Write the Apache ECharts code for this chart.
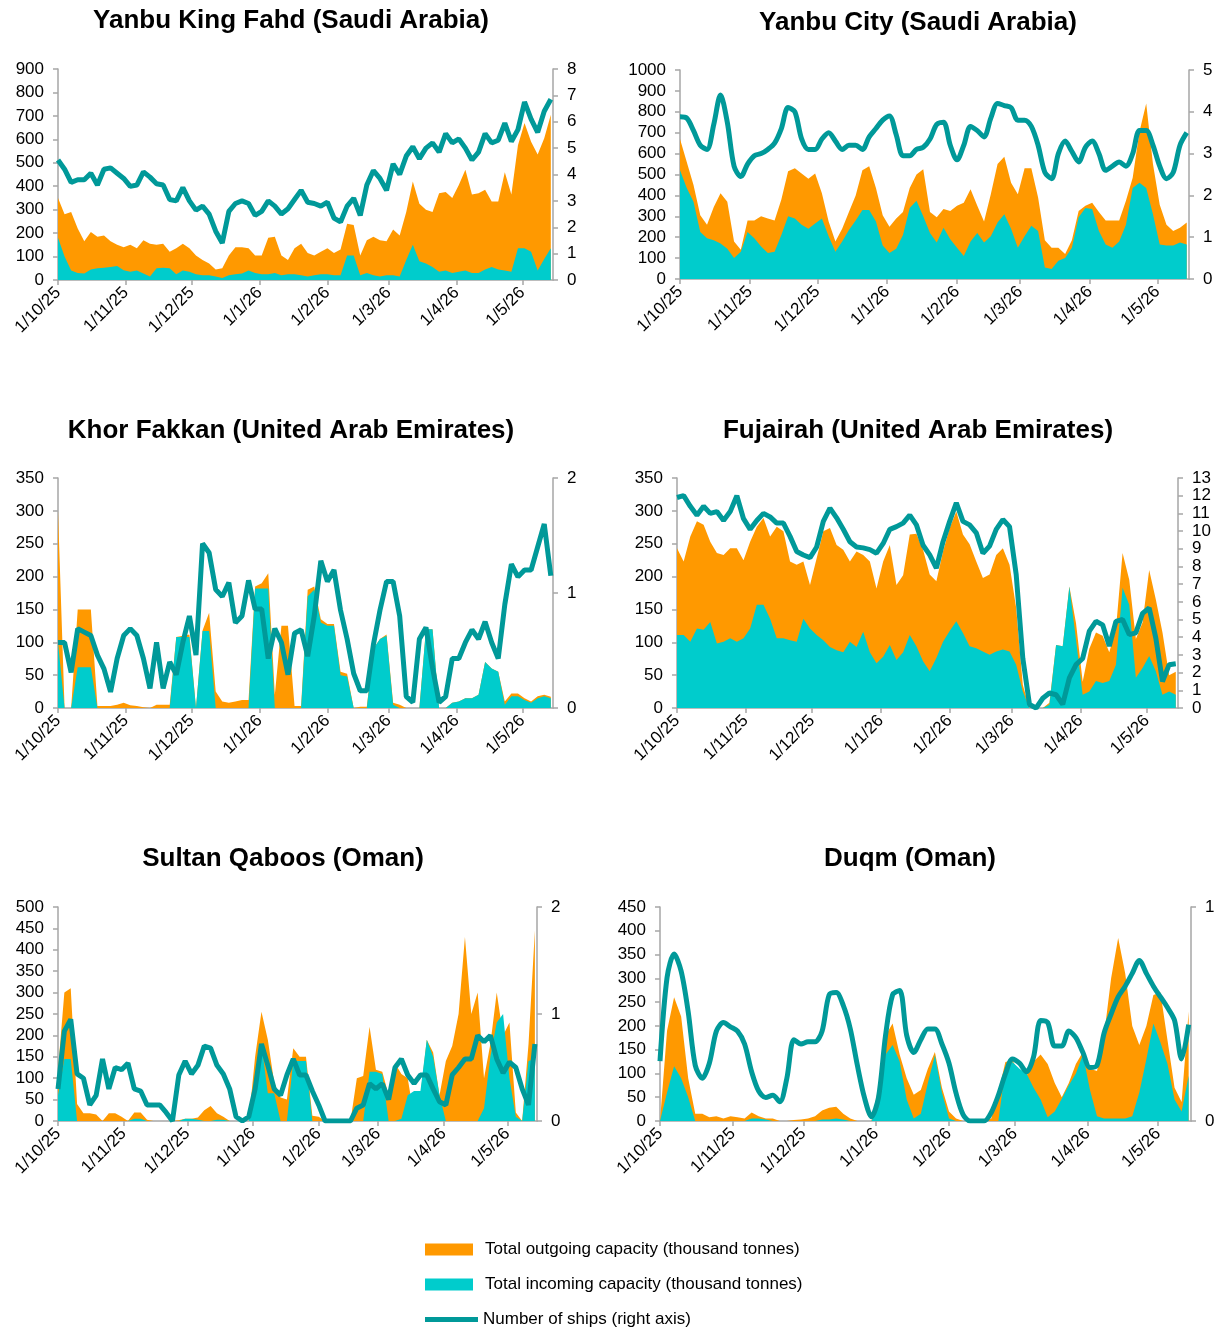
<!DOCTYPE html>
<html>
<head>
<meta charset="utf-8">
<script src="https://cdn.jsdelivr.net/npm/echarts@6/dist/echarts.min.js"></script>
<style>html,body{margin:0;padding:0;background:#fff}#c{width:1219px;height:1329px}</style>
</head>
<body>
<div id="c"></div>
<script>
// ---- sample days (days since 1 Oct 2025) ----
const SAMPLE_DAYS = [0,3,6,9,12,15,18,21,24,27,30,33,36,39,42,45,48,51,54,57,60,63,66,69,72,75,78,81,84,87,90,93,96,99,102,105,108,111,114,117,120,123,126,129,132,135,138,141,144,147,150,153,156,159,162,165,168,171,174,177,180,183,186,189,192,195,198,201,204,207,210,213,216,219,222,225];
const TICK_DAYS = [0,31,61,92,123,151,182,212];
const TICK_LABELS = ['1/10/25','1/11/25','1/12/25','1/1/26','1/2/26','1/3/26','1/4/26','1/5/26'];
const TITLES = ['Yanbu King Fahd (Saudi Arabia)','Yanbu City (Saudi Arabia)','Khor Fakkan (United Arab Emirates)','Fujairah (United Arab Emirates)','Sultan Qaboos (Oman)','Duqm (Oman)'];
const NAME_OUT = 'Total outgoing capacity (thousand tonnes)';
const NAME_IN = 'Total incoming capacity (thousand tonnes)';
const NAME_SHIPS = 'Number of ships (right axis)';

// ---- Yanbu King Fahd ----
const kfOut = [350,280,290,220,165,205,185,190,165,150, 140,150,135,170,155,150,155,120,135,155, 135,105,85,70,45,50,105,140,140,135, 105,105,180,185,105,85,135,155,115,105, 120,135,115,130,240,235,105,170,185,170, 165,215,190,290,420,325,300,290,370,375, 350,405,470,365,370,385,335,335,460,365, 575,670,590,535,605,705];
const kfIn = [180,100,40,30,28,45,50,52,55,60, 42,35,40,28,15,50,52,50,25,40, 35,25,20,20,15,8,20,25,28,40, 30,25,25,30,20,25,25,20,15,20, 25,25,20,20,105,105,20,30,20,15, 20,20,15,85,150,80,70,55,35,40, 30,35,40,30,30,45,55,45,40,35, 135,135,120,40,90,135];
const kfShips = [4.55,4.2,3.7,3.8,3.8,4.05,3.6,4.2,4.25,4.05, 3.85,3.55,3.6,4.1,3.9,3.65,3.6,3.05,3.0,3.5, 3.0,2.65,2.8,2.5,1.85,1.4,2.6,2.9,3.0,2.9, 2.45,2.6,3.0,2.8,2.5,2.7,3.05,3.4,2.95,2.9, 2.8,2.95,2.35,2.2,2.8,3.1,2.45,3.6,4.15,3.85, 3.4,4.4,4.0,4.7,5.05,4.6,5.0,5.2,4.85,5.55, 5.2,5.35,5.0,4.55,4.85,5.55,5.2,5.3,5.95,5.25, 5.7,6.75,6.1,5.6,6.4,6.85];

// ---- Yanbu City ----
const ycOut = [670,560,450,305,260,345,410,370,180,140, 280,280,300,290,280,380,515,530,505,480, 505,410,275,180,240,320,400,520,540,435, 305,250,290,320,435,500,525,320,295,335, 325,350,365,430,350,275,405,550,585,460, 405,530,530,390,185,150,150,120,185,325, 350,365,320,280,280,280,375,485,705,840, 550,355,260,230,245,270];
const ycIn = [520,435,370,225,195,185,170,145,100,130, 225,195,155,125,130,210,300,290,260,240, 265,290,205,130,180,235,280,330,330,275, 160,125,145,210,340,375,300,220,175,245, 190,150,110,180,220,175,205,270,310,240, 150,205,255,230,55,48,87,100,150,295, 340,335,230,165,150,180,260,435,460,435, 310,165,160,160,175,165];
const ycShips = [3.88,3.85,3.55,3.2,3.1,3.7,4.4,3.75,2.7,2.45, 2.75,2.95,3.0,3.1,3.25,3.6,4.1,4.0,3.35,3.1, 3.1,3.35,3.5,3.3,3.1,3.2,3.2,3.1,3.4,3.6, 3.8,3.9,3.45,2.95,2.95,3.1,3.15,3.35,3.7,3.75, 3.2,2.85,3.2,3.65,3.55,3.4,3.85,4.2,4.15,4.1, 3.8,3.8,3.65,3.2,2.55,2.4,3.0,3.3,3.05,2.8, 3.15,3.3,3.0,2.6,2.7,2.8,2.7,3.0,3.55,3.55, 3.2,2.7,2.4,2.55,3.2,3.5];

// ---- Khor Fakkan ----
const kkOut = [300,0,0,150,150,150,3,3,3,5, 8,4,3,1,0,5,5,5,108,110, 112,0,118,145,25,10,8,10,12,12, 185,190,205,20,125,125,3,3,180,185, 135,128,128,55,52,0,2,2,90,105, 112,8,5,0,0,0,120,120,0,0, 8,10,15,15,20,70,60,55,10,22, 22,15,10,18,20,17];
const kkIn = [100,0,0,62,62,62,0,0,0,0, 0,0,0,0,0,0,0,0,108,108, 108,0,117,117,0,0,0,0,0,0, 182,182,182,0,0,0,0,0,170,180, 130,125,125,50,48,0,0,0,90,105, 110,5,0,0,0,0,120,120,0,0, 8,10,15,15,20,70,60,55,5,18, 18,12,8,15,18,15];
const kkShips = [0.57,0.57,0.31,0.69,0.66,0.63,0.46,0.34,0.14,0.43, 0.63,0.69,0.63,0.43,0.17,0.57,0.17,0.4,0.29,0.57, 0.8,0.46,1.43,1.35,1.03,0.97,1.09,0.74,0.8,1.11, 0.86,0.86,0.43,0.69,0.57,0.29,0.65,0.68,0.45,0.8, 1.28,1.1,1.2,0.85,0.6,0.3,0.15,0.15,0.55,0.85, 1.1,1.1,0.8,0.1,0.05,0.6,0.7,0.35,0.05,0.1, 0.43,0.43,0.57,0.68,0.6,0.75,0.57,0.43,0.9,1.25, 1.14,1.2,1.2,1.4,1.6,1.15];

// ---- Fujairah ----
const fjOut = [243,223,261,284,279,253,236,233,243,243, 225,253,276,289,261,276,269,223,218,223, 187,228,269,274,248,241,223,238,233,223, 182,223,248,187,202,264,265,241,203,193, 238,274,299,264,249,223,198,203,233,243, 218,152,35,0,0,0,8,96,94,185, 129,40,90,115,110,85,120,236,195,105, 130,210,165,115,50,55];
const fjIn = [111,111,101,121,119,131,98,101,106,101, 106,121,157,157,136,106,106,103,101,136, 121,111,103,93,88,85,101,93,116,85, 68,78,96,73,85,111,94,71,56,76, 101,117,132,114,94,91,86,81,86,89, 86,66,25,0,0,0,5,96,94,185, 104,20,25,41,38,41,66,183,157,46, 61,79,56,20,25,20];
const fjShips = [11.9,12.0,11.4,10.9,11.4,11.0,11.1,10.6,11.1,12.0, 10.7,10.1,10.6,11.0,10.8,10.45,10.45,9.7,8.85,8.65, 8.5,9.1,10.55,11.3,10.75,10.1,9.4,9.1,9.05,8.95, 8.75,9.3,10.1,10.25,10.45,10.9,10.35,9.2,8.65,7.9, 9.4,10.55,11.6,10.55,10.35,9.9,8.75,9.15,10.1,10.65, 10.25,7.55,2.8,0.2,0,0.55,0.85,0.75,0.2,1.7, 2.45,2.8,4.35,4.9,4.7,3.5,4.9,5.0,4.15,4.25, 5.35,5.65,3.95,1.5,2.45,2.5];

// ---- Sultan Qaboos ----
const sqOut = [120,300,310,40,18,18,15,0,18,18, 10,0,20,20,3,0,0,0,0,2, 5,5,8,25,35,18,10,0,0,0, 0,150,255,190,90,55,50,170,150,150, 12,10,0,0,0,0,0,100,105,220, 120,115,60,135,110,100,10,60,190,160, 60,140,175,250,430,250,300,100,180,300, 200,230,20,0,180,445];
const sqIn = [60,145,145,0,0,0,0,0,0,0, 0,0,5,5,0,0,0,0,0,0, 5,5,3,0,0,3,3,0,0,0, 0,100,180,65,65,0,0,140,140,140, 0,0,0,0,0,0,0,0,0,115, 115,110,0,0,5,60,70,70,190,150, 60,0,0,0,0,0,0,30,150,230, 250,100,10,0,140,145];
const sqShips = [0.3,0.84,0.95,0.44,0.4,0.15,0.24,0.58,0.3,0.5, 0.48,0.54,0.3,0.28,0.15,0.15,0.15,0.08,0,0.43, 0.56,0.44,0.52,0.7,0.68,0.52,0.44,0.3,0.04,0, 0.04,0.3,0.72,0.52,0.3,0.24,0.43,0.58,0.43,0.43, 0.28,0.15,0,0,0,0,0,0.12,0.15,0.35, 0.3,0.35,0.2,0.5,0.58,0.43,0.35,0.43,0.43,0.3, 0.18,0.15,0.43,0.5,0.58,0.58,0.8,0.74,0.8,0.58, 0.45,0.55,0.5,0.3,0.15,0.72];

// ---- Duqm ----
const dqOut = [0,190,260,220,90,15,15,8,10,5, 10,8,5,18,10,5,5,0,0,2, 3,5,10,22,28,30,15,5,0,0, 0,70,180,205,140,90,55,65,110,145, 70,20,5,0,0,0,0,5,60,124, 128,100,95,125,140,120,80,50,80,120, 145,110,105,180,300,385,310,200,160,200, 265,270,170,70,40,230];
const dqIn = [0,60,115,90,50,0,0,0,0,0, 0,0,0,5,5,3,0,0,0,0, 0,0,0,3,3,5,3,0,0,0, 0,30,140,160,125,45,5,15,80,138, 60,5,0,0,0,0,0,0,0,110, 124,110,100,70,45,8,20,47,75,100, 140,65,10,5,5,5,5,10,60,130, 205,165,120,45,20,95];
const dqShips = [0.28,0.67,0.78,0.7,0.51,0.26,0.2,0.27,0.42,0.46, 0.44,0.42,0.36,0.23,0.14,0.11,0.12,0.09,0.2,0.38, 0.36,0.37,0.37,0.42,0.59,0.6,0.54,0.43,0.26,0.11, 0.02,0.11,0.4,0.59,0.61,0.4,0.32,0.38,0.43,0.43, 0.36,0.27,0.13,0.03,0,0,0,0.04,0.12,0.22, 0.29,0.27,0.23,0.3,0.47,0.46,0.35,0.35,0.42,0.39, 0.32,0.25,0.26,0.41,0.5,0.58,0.63,0.69,0.75,0.69, 0.63,0.58,0.53,0.47,0.29,0.45];

// ---- styling / layout ----
const FONT = "'Liberation Sans', Arial, sans-serif";
const ORANGE = '#FF9900', CYAN = '#00CCCC', TEAL = '#009999', AXIS = '#A6A6A6';

const PANELS = [
  {title: TITLES[0], out: kfOut, inc: kfIn, ships: kfShips, lmax: 900, lint: 100, rmax: 8, rint: 1, g: [58, 69, 495, 211], tx: 291, ty: 8, smooth: false},
  {title: TITLES[1], out: ycOut, inc: ycIn, ships: ycShips, lmax: 1000, lint: 100, rmax: 5, rint: 1, g: [680, 70, 509, 209], tx: 918, ty: 10, smooth: 0.3},
  {title: TITLES[2], out: kkOut, inc: kkIn, ships: kkShips, lmax: 350, lint: 50, rmax: 2, rint: 1, g: [58, 478, 495, 230], tx: 291, ty: 418, smooth: false},
  {title: TITLES[3], out: fjOut, inc: fjIn, ships: fjShips, lmax: 350, lint: 50, rmax: 13, rint: 1, g: [677, 478, 501, 230], tx: 918, ty: 418, smooth: false},
  {title: TITLES[4], out: sqOut, inc: sqIn, ships: sqShips, lmax: 500, lint: 50, rmax: 2, rint: 1, g: [58, 907, 479, 214], tx: 283, ty: 846, smooth: false},
  {title: TITLES[5], out: dqOut, inc: dqIn, ships: dqShips, lmax: 450, lint: 50, rmax: 1, rint: 1, g: [660, 907, 531, 214], tx: 910, ty: 846, smooth: 0.3}
];

function pairs(vals) { return SAMPLE_DAYS.map((d, k) => [d, vals[k]]); }

const labelStyle = {color: '#000', fontSize: 17, fontFamily: FONT};
const title = [], grid = [], xAxis = [], yAxis = [], series = [];

PANELS.forEach((p, i) => {
  title.push({text: p.title, left: p.tx, top: p.ty, textAlign: 'center', padding: 0,
    textStyle: {fontSize: 26, fontWeight: 'bold', fontFamily: FONT, color: '#000'}});
  grid.push({left: p.g[0], top: p.g[1], width: p.g[2], height: p.g[3]});
  xAxis.push({type: 'value', gridIndex: i, min: 0, max: 226,
    axisLine: {show: true, lineStyle: {color: AXIS, width: 1.5}},
    axisTick: {show: true, customValues: TICK_DAYS, length: 5, lineStyle: {color: AXIS, width: 1.5}},
    axisLabel: Object.assign({customValues: TICK_DAYS, rotate: 45, margin: 10,
      formatter: v => { const k = TICK_DAYS.indexOf(Math.round(v)); return k >= 0 ? TICK_LABELS[k] : ''; }}, labelStyle),
    splitLine: {show: false}});
  yAxis.push({type: 'value', gridIndex: i, position: 'left', min: 0, max: p.lmax, interval: p.lint,
    axisLine: {show: true, lineStyle: {color: AXIS, width: 1.5}},
    axisTick: {show: true, length: 5, lineStyle: {color: AXIS, width: 1.5}},
    axisLabel: Object.assign({margin: 14, formatter: v => String(v)}, labelStyle), splitLine: {show: false}});
  yAxis.push({type: 'value', gridIndex: i, position: 'right', min: 0, max: p.rmax, interval: p.rint,
    axisLine: {show: true, lineStyle: {color: AXIS, width: 1.5}},
    axisTick: {show: true, length: 5, lineStyle: {color: AXIS, width: 1.5}},
    axisLabel: Object.assign({margin: 14, formatter: v => String(v)}, labelStyle), splitLine: {show: false}});
  series.push({name: NAME_OUT, type: 'line', xAxisIndex: i, yAxisIndex: 2 * i, data: pairs(p.out),
    symbol: 'none', lineStyle: {width: 0}, areaStyle: {color: ORANGE, opacity: 1},
    itemStyle: {color: ORANGE}, color: ORANGE, z: 2});
  series.push({name: NAME_IN, type: 'line', xAxisIndex: i, yAxisIndex: 2 * i, data: pairs(p.inc),
    symbol: 'none', lineStyle: {width: 0}, areaStyle: {color: CYAN, opacity: 1},
    itemStyle: {color: CYAN}, color: CYAN, z: 3});
  series.push({name: NAME_SHIPS, type: 'line', xAxisIndex: i, yAxisIndex: 2 * i + 1, data: pairs(p.ships),
    symbol: 'none', smooth: p.smooth, lineStyle: {width: 5, color: TEAL}, itemStyle: {color: TEAL}, color: TEAL, z: 4});
});

const legendText = {fontSize: 17, fontFamily: FONT, color: '#000'};
const legend = [
  {data: [{name: NAME_OUT, icon: 'rect'}], left: 425, top: 1241, itemWidth: 48, itemHeight: 12, padding: 0,
    selectedMode: false, itemStyle: {borderWidth: 0}, textStyle: Object.assign({padding: [0, 0, 0, 7]}, legendText)},
  {data: [{name: NAME_IN, icon: 'rect'}], left: 425, top: 1276, itemWidth: 48, itemHeight: 12, padding: 0,
    selectedMode: false, itemStyle: {borderWidth: 0}, textStyle: Object.assign({padding: [0, 0, 0, 7]}, legendText)},
  {data: [{name: NAME_SHIPS, icon: 'rect'}], left: 425, top: 1311, itemWidth: 53, itemHeight: 5, padding: 0,
    selectedMode: false, itemStyle: {borderWidth: 0}, textStyle: legendText}
];

const chart = echarts.init(document.getElementById('c'), null, {renderer: 'canvas'});
chart.setOption({
  animation: false,
  backgroundColor: '#fff',
  textStyle: {fontFamily: FONT},
  title, legend, grid, xAxis, yAxis, series
});
</script>
</body>
</html>
